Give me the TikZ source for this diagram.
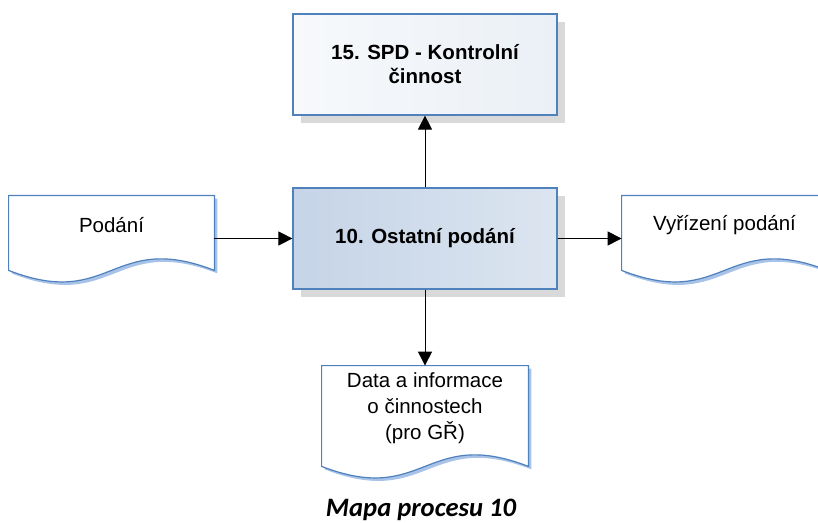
\documentclass[tikz,border=0pt]{standalone}
\usepackage{fontspec}
\setmainfont{Liberation Sans}
\newfontfamily\capfont{Carlito}
\usepackage{tikz}
\usetikzlibrary{positioning,arrows.meta,calc,shadows,backgrounds}

\definecolor{edgeblue}{HTML}{4F81BD}
\definecolor{procleft}{HTML}{C5D4E7}
\definecolor{procright}{HTML}{DCE5F0}
\definecolor{topleft}{HTML}{F7F9FB}
\definecolor{topright}{HTML}{EBF0F6}
\definecolor{docshade}{HTML}{A9C3E8}

% document shape round a node: #1 node, #2 options, #3/#4 offset
\newcommand{\docshape}[4]{%
  \path[#2] ([shift={(#3,#4)}]#1.north west) -- ([shift={(#3,#4)}]#1.north east)
    -- ([shift={(#3,#4+16)}]#1.south east)
    .. controls ([shift={(#3,#4-24)}]#1.south) and ([shift={(#3,#4+56)}]#1.south)
    .. ([shift={(#3,#4+16)}]#1.south west) -- cycle;}

\begin{document}
\begin{tikzpicture}[x=0.5pt, y=-0.5pt,
  proc/.style={draw=edgeblue, line width=0.6pt, minimum width=132pt, minimum height=50.5pt,
    align=center, font=\fontsize{10.25pt}{12pt}\selectfont\bfseries,
    drop shadow={shadow xshift=4pt, shadow yshift=-4pt, fill=black!15, opacity=1}},
  docnode/.style={inner sep=0pt, minimum width=102.5pt, minimum height=29pt,
    align=center, font=\fontsize{10.25pt}{13pt}\selectfont},
  flow/.style={-{Triangle[length=7pt,width=7pt]}, line width=0.5pt}]
\clip (0,0) rectangle (818,523);

% Process boxes
\node[proc, left color=topleft, right color=topright] (proc15) at (425,64.5) {15. SPD - Kontrolní\\činnost};
\node[proc, left color=procleft, right color=procright] (proc10) at (425,238.5) {10. Ostatní podání};

% Documents
\node[docnode] (podani) at (111.5,225) {Podání};
\node[docnode] (vyrizeni) at (724.5,225) {Vyřízení podání};
\node[docnode, minimum width=103pt, minimum height=42pt] (data) at (425,408) {Data a informace\\o činnostech\\(pro GŘ)};

\begin{pgfonlayer}{background}
\foreach \d in {podani,vyrizeni,data} {
  \docshape{\d}{fill=docshade}{3}{3}
  \docshape{\d}{fill=white, draw=edgeblue, line width=0.6pt}{0}{0}
}
\end{pgfonlayer}

% Arrows
\draw[flow] (proc10.north) -- (proc15.south);
\draw[flow] (podani.east |- proc10.west) -- (proc10.west);
\draw[flow] (proc10.east) -- (vyrizeni.west |- proc10.east);
\draw[flow] (proc10.south) -- (data.north);

% Caption
\node[anchor=base, font=\fontsize{13.3pt}{16pt}\capfont\bfseries\itshape] (caption) at (421,516) {Mapa procesu 10};
\end{tikzpicture}
\end{document}
